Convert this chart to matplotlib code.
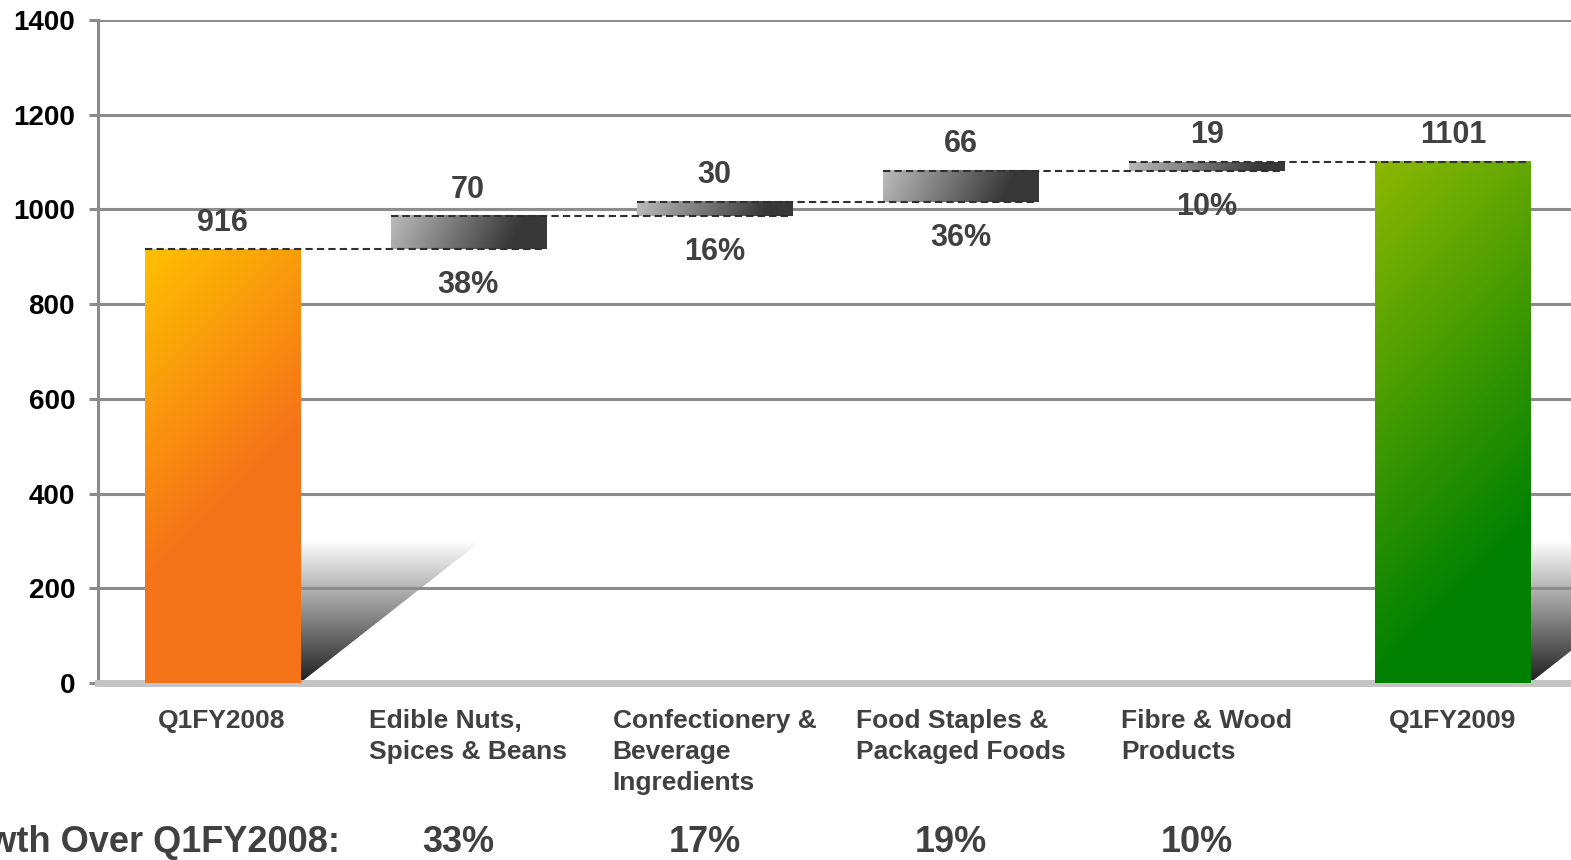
import numpy as np
import matplotlib
matplotlib.use('Agg')
import matplotlib.pyplot as plt
import matplotlib.transforms as mtransforms
from matplotlib.colors import to_rgb
from matplotlib.patches import Polygon

# datos del grafico (millones)
categorias = ['Q1FY2008', 'Edible Nuts,\nSpices & Beans', 'Confectionery &\nBeverage\nIngredients',
              'Food Staples &\nPackaged Foods', 'Fibre & Wood\nProducts', 'Q1FY2009']
valores = [916, 70, 30, 66, 19, 1101]
tipo = ['total', 'paso', 'paso', 'paso', 'paso', 'total']
participacion = ['38%', '16%', '36%', '10%']
crecimiento = ['33%', '17%', '19%', '10%']
yticks = [0, 200, 400, 600, 800, 1000, 1200, 1400]

plt.rcParams['font.family'] = ['Liberation Sans', 'DejaVu Sans']

# bases de las barras flotantes
bases = []
acumulado = 0
for v, t in zip(valores, tipo):
    if t == 'total':
        bases.append(0)
        acumulado = v
    else:
        bases.append(acumulado)
        acumulado += v
topes = [b + v for b, v in zip(bases, valores)]

W, H = 1571, 860
fig = plt.figure(figsize=(W / 100, H / 100), dpi=100)
pos = [98 / W, (H - 683) / H, (W - 98) / W, 663 / H]
ax = fig.add_axes(pos)
xlim = (-0.504, 5.48)
ylim = (0, 1400)

px_x = pos[2] * W / (xlim[1] - xlim[0])
px_y = pos[3] * H / (ylim[1] - ylim[0])

x = np.arange(len(categorias))
ancho = 0.63


def degradado(c0, c1, nx, ny, fx, fy, escala):
    xx, yy = np.meshgrid(np.arange(nx), np.arange(ny))
    t = np.clip((fx * xx + fy * yy) / escala, 0, 1)[..., None]
    return (1 - t) * np.array(to_rgb(c0)) + t * np.array(to_rgb(c1))


barras = ax.bar(x, valores, ancho, bottom=bases, color='none', edgecolor='none', zorder=3)

for i, (b, v) in enumerate(zip(bases, valores)):
    nx = max(int(ancho * px_x), 2)
    ny = max(int(v * px_y), 2)
    if i == 0:
        img = degradado('#FFC000', '#F57318', nx, ny, 1, 1, 330)
    elif i == len(valores) - 1:
        img = degradado('#8DB800', '#008000', nx, ny, 1, 1, 520)
    else:
        img = degradado('#BCBCBC', '#383838', nx, ny, 1, 0.5, 0.85 * nx)
    ax.imshow(img, extent=(x[i] - ancho / 2, x[i] + ancho / 2, b, b + v),
              aspect='auto', interpolation='bilinear', zorder=3)

# sombras de las barras de total
for i, t in enumerate(tipo):
    if t != 'total':
        continue
    xr = x[i] + ancho / 2
    sombra = np.linspace(1.0, 0.12, 200)[:, None] * np.ones((1, 50))
    sombra = np.dstack([sombra] * 3)
    im = ax.imshow(sombra, extent=(xr, xr + 0.735, 0, 300), aspect='auto', zorder=0.3)
    tri = Polygon([(xr, 0), (xr, 300), (xr + 0.735, 300)], closed=True, transform=ax.transData)
    im.set_clip_path(tri)

# lineas punteadas de conexion
for i in range(len(valores) - 1):
    ax.plot([x[i] - ancho / 2, x[i + 1] + ancho / 2], [topes[i], topes[i]],
            color='#303030', lw=1.5, linestyle=(0, (3.5, 2)), zorder=4)

# etiquetas de valores
for i, v in enumerate(valores):
    ax.annotate(str(v), (x[i], topes[i]), xytext=(0, 19), textcoords='offset points',
                ha='center', va='center', fontsize=22, fontweight='bold', color='#404040', zorder=5)

for j, p in enumerate(participacion):
    i = j + 1
    ax.annotate(p, (x[i], bases[i]), xytext=(0, -26), textcoords='offset points',
                ha='center', va='center', fontsize=22, fontweight='bold', color='#404040', zorder=5)

ax.set_xlim(xlim)
ax.set_ylim(ylim)
ax.set_yticks(yticks)
ax.set_xticks(x, categorias, fontsize=19, fontweight='bold', color='#404040',
              multialignment='left', linespacing=1.37)
for lbl in ax.get_yticklabels():
    lbl.set_fontweight('bold')
ax.tick_params(axis='y', length=6.5, width=2.2, color='#8C8C8C', pad=10, labelsize=20, labelcolor='black')
ax.tick_params(axis='x', length=0, pad=19)

ax.yaxis.grid(True, color='#8C8C8C', lw=2.2)
ax.set_axisbelow(True)
for s in ['top', 'right']:
    ax.spines[s].set_visible(False)
ax.spines['left'].set_color('#8C8C8C')
ax.spines['left'].set_linewidth(2.2)
ax.spines['bottom'].set_color('#C4C4C4')
ax.spines['bottom'].set_linewidth(5)

# fila de crecimiento (cortada a la izquierda como en el original)
trans = mtransforms.blended_transform_factory(ax.transData, fig.transFigure)
fig.text(340 / W, 0.009, 'Growth Over Q1FY2008:', ha='right', va='baseline',
         fontsize=26, fontweight='bold', color='#404040')
for j, c in enumerate(crecimiento):
    fig.text(x[j + 1] - 0.04, 0.009, c, transform=trans, ha='center', va='baseline',
             fontsize=26, fontweight='bold', color='#404040')

fig.savefig('out.png', dpi=100)
